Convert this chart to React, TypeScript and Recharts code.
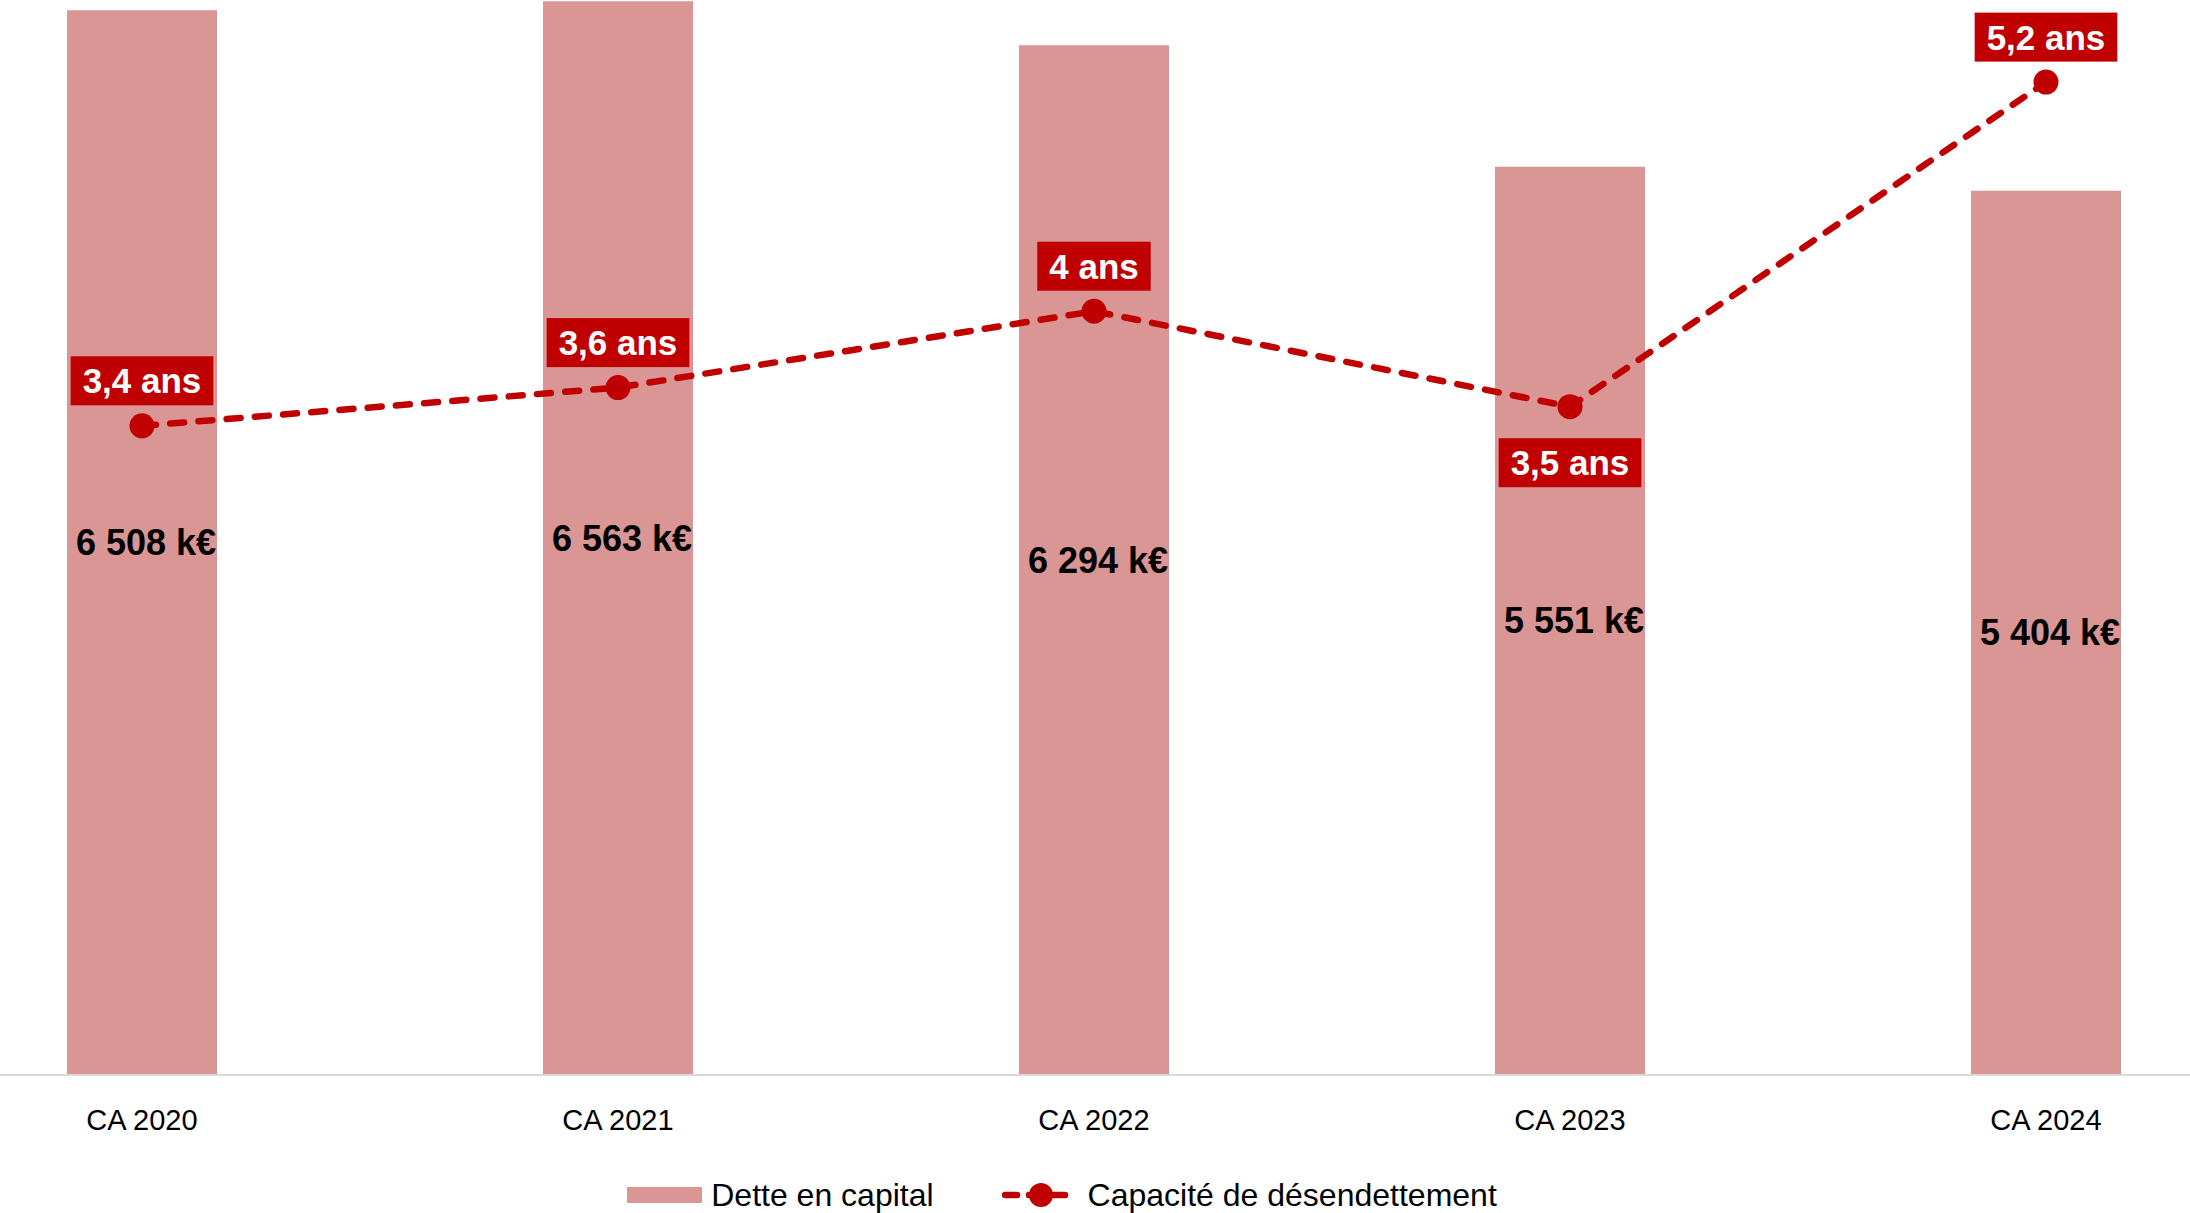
import React from 'react';
import { ComposedChart, Bar, Line, XAxis, YAxis, Legend, LabelList } from 'recharts';

const categories = ['CA 2020', 'CA 2021', 'CA 2022', 'CA 2023', 'CA 2024'];
const detteCapital = [6508, 6563, 6294, 5551, 5404];
const capaciteDesendettement = [3.4, 3.6, 4, 3.5, 5.2];

const data = categories.map((name, i) => ({
  name,
  dette: detteCapital[i],
  capacite: capaciteDesendettement[i],
}));

const FONT = "'Liberation Sans', Arial, sans-serif";
const RED = '#C00000';
const PINK = '#D99694';

const fmtK = (v: number) => String(v).replace(/\B(?=(\d{3})+(?!\d))/g, ' ') + ' k€';
const fmtAns = (v: number) => String(v).replace('.', ',') + ' ans';

let ctx: CanvasRenderingContext2D | null = null;
function textWidth(s: string, font: string) {
  if (!ctx) ctx = document.createElement('canvas').getContext('2d');
  if (!ctx) return s.length * 16;
  ctx.font = font;
  return ctx.measureText(s).width;
}

function AnsLabel(props: any) {
  const { x, y, value, index } = props;
  const text = fmtAns(value);
  const w = textWidth(text, `bold 35px ${FONT}`) + 24;
  const h = 49;
  // the 2023 label sits under its point
  const cy = index === 3 ? y + 56 : y - 45;
  return (
    <g>
      <rect x={x - w / 2} y={cy - h / 2} width={w} height={h} fill={RED} />
      <text x={x} y={cy} fill="#fff" textAnchor="middle" dominantBaseline="central"
        fontFamily={FONT} fontWeight="bold" fontSize={35}>{text}</text>
    </g>
  );
}

function DetteLabel(props: any) {
  const { x, y, width, height, value } = props;
  return (
    <text x={x + width / 2 + 4} y={y + height / 2} fill="#000" textAnchor="middle" dominantBaseline="central"
      fontFamily={FONT} fontWeight="bold" fontSize={36}>{fmtK(value)}</text>
  );
}

function LegendContent() {
  return (
    <div style={{ display: 'flex', justifyContent: 'center', alignItems: 'center', height: 36, paddingTop: 24,
      paddingRight: 64, fontFamily: FONT, fontSize: 32, color: '#000' }}>
      <div style={{ display: 'flex', alignItems: 'center' }}>
        <div style={{ width: 75, height: 16, background: PINK, marginRight: 9 }} />
        <span>Dette en capital</span>
      </div>
      <div style={{ display: 'flex', alignItems: 'center', marginLeft: 68 }}>
        <svg width={78} height={26}>
          <line x1={3} y1={13} x2={75} y2={13} stroke={RED} strokeWidth={6.5} strokeDasharray="12 12"
            strokeLinecap="round" />
          <circle cx={39} cy={13} r={12} fill={RED} />
        </svg>
        <span style={{ marginLeft: 8 }}>Capacité de désendettement</span>
      </div>
    </div>
  );
}

export default function App() {
  return (
    <div style={{ position: 'fixed', left: 0, top: 0, width: 2190, height: 1213, overflow: 'hidden', background: '#fff' }}>
      <div style={{ position: 'absolute', left: -96, top: 0 }}>
        <ComposedChart width={2380} height={1213} data={data} margin={{ top: 0, right: 0, bottom: 0, left: 0 }}>
          <XAxis dataKey="name" height={78} tickLine={false} tickSize={0} tickMargin={34}
            axisLine={{ stroke: '#D9D9D9', strokeWidth: 2 }}
            tick={{ fontSize: 29, fill: '#000', fontFamily: FONT }} />
          <YAxis yAxisId="left" domain={[0, 6570]} hide />
          <YAxis yAxisId="right" orientation="right" domain={[0, 5.63]} hide />
          <Legend verticalAlign="bottom" content={<LegendContent />} />
          <Bar yAxisId="left" dataKey="dette" name="Dette en capital" fill={PINK} barSize={150} isAnimationActive={false}>
            <LabelList dataKey="dette" content={<DetteLabel />} />
          </Bar>
          <Line yAxisId="right" dataKey="capacite" name="Capacité de désendettement" stroke={RED} strokeWidth={6.5}
            strokeDasharray="14 14.3" strokeLinecap="round" dot={{ r: 12.5, fill: RED, stroke: 'none' }}
            activeDot={false} label={<AnsLabel />} isAnimationActive={false} />
        </ComposedChart>
      </div>
    </div>
  );
}
